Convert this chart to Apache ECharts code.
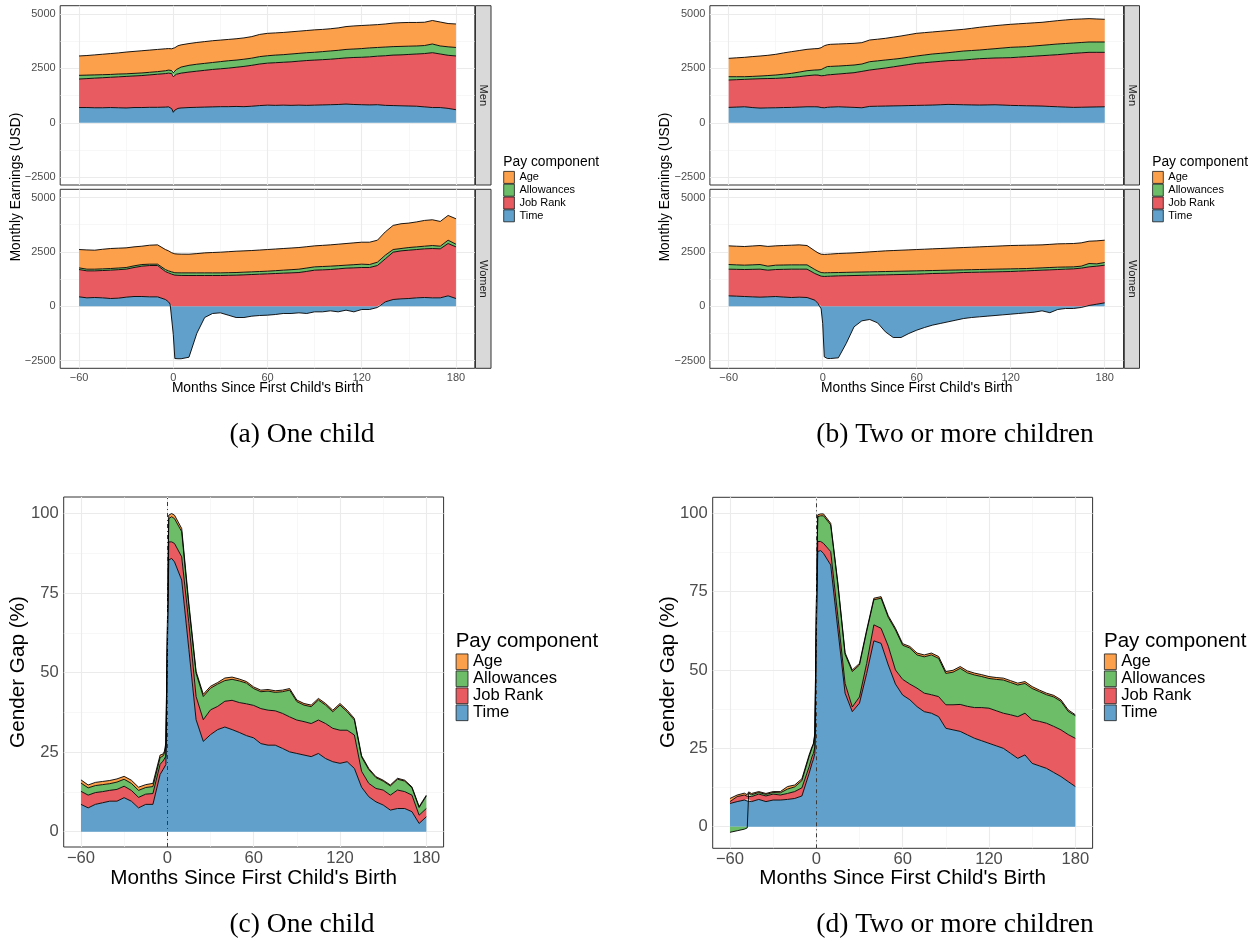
<!DOCTYPE html>
<html>
<head>
<meta charset="utf-8">
<script src="https://cdn.jsdelivr.net/npm/echarts@6.0.0/dist/echarts.min.js"></script>
<style>
html,body{margin:0;padding:0;background:#ffffff;}
#chart{width:1258px;height:942px;}
</style>
</head>
<body>
<div id="chart"></div>
<script>
// ---------------- DATA ----------------
const COMPONENTS = ['Age', 'Allowances', 'Job Rank', 'Time'];
const X_TICKS = [-60, 0, 60, 120, 180];
const X_MINOR = [-30, 30, 90, 150];
const Y_TICKS_EARN = [-2500, 0, 2500, 5000];
const Y_MINOR_EARN = [-1250, 1250, 3750];
const Y_TICKS_GAP = [0, 25, 50, 75, 100];
const Y_MINOR_GAP = [12.5, 37.5, 62.5, 87.5];

const MONTHS = [-60,-55,-50,-45,-40,-35,-30,-25,-20,-15,-10,-5,-3,-2,-1,0,1,2,3,5,10,15,20,25,30,35,40,45,50,55,60,65,70,75,80,85,90,95,100,105,110,115,120,125,130,135,140,145,150,155,160,165,170,175,180];
const MONTHS_D = [-60,-55,-50,-48,-47,-45,-40,-35,-30,-25,-20,-15,-10,-5,-3,-2,-1,0,1,2,3,5,10,15,20,25,30,35,40,45,50,55,60,65,70,75,80,85,90,95,100,105,110,115,120,125,130,135,140,145,150,155,160,165,170,175,180];

// (a) One child - Men (USD)
const A_MEN_TIME = [700,700,690,690,700,690,680,700,700,710,710,720,730,720,650,480,580,640,660,680,700,710,720,730,740,740,750,740,760,790,810,800,810,800,810,800,810,820,830,840,860,840,830,820,830,800,790,780,770,760,730,700,700,660,600];
const A_MEN_JOBRANK = [1310,1330,1360,1380,1390,1420,1450,1450,1470,1490,1520,1540,1550,1570,1610,1640,1600,1590,1590,1600,1630,1660,1690,1720,1740,1770,1800,1850,1880,1910,1930,1960,1970,2000,2020,2060,2070,2080,2090,2110,2120,2160,2180,2210,2230,2280,2320,2340,2370,2400,2450,2520,2460,2440,2470];
const A_MEN_ALLOW = [170,160,150,140,130,130,120,120,120,120,120,130,140,150,140,180,200,220,250,280,310,320,320,320,330,340,330,330,330,340,340,350,350,360,360,360,360,370,380,380,390,390,400,410,400,400,390,390,380,370,370,400,370,390,390];
const A_MEN_AGE = [890,900,920,940,960,970,1000,1010,1020,1020,1020,1010,990,980,1000,1080,1070,1050,1040,1020,1000,1000,1000,1000,990,980,980,980,990,1020,1030,1020,1020,1020,1020,1020,1030,1020,1020,1030,1050,1060,1060,1050,1050,1060,1080,1090,1090,1080,1070,1080,1100,1070,1080];

// (a) One child - Women (USD)
const A_WOMEN_TIME = [430,384,399,384,353,368,414,445,445,430,430,307,199,92,0,-1300,-2410,-2420,-2420,-2420,-2350,-1250,-522,-337,-307,-414,-522,-522,-460,-430,-414,-384,-337,-337,-307,-337,-261,-261,-215,-261,-184,-261,-153,-153,-61,199,307,337,353,384,399,384,384,476,353];
const A_WOMEN_JOBRANK = [1257,1242,1227,1256,1304,1312,1289,1334,1396,1441,1441,1288,1335,1408,1473,1442,1430,1425,1420,1415,1411,1411,1411,1411,1411,1420,1427,1442,1457,1473,1488,1503,1519,1534,1549,1600,1657,1672,1687,1718,1749,1764,1779,1779,1871,1979,2178,2209,2224,2224,2240,2270,2255,2408,2377];
const A_WOMEN_ALLOW = [77,77,77,78,76,76,76,77,76,62,62,92,92,100,107,107,110,112,115,119,123,123,123,123,123,122,122,123,123,123,123,131,138,146,154,156,153,154,154,146,138,146,154,138,154,169,123,108,123,122,122,138,122,153,123];
const A_WOMEN_AGE = [844,887,874,902,921,914,906,874,844,874,889,921,920,900,880,875,870,868,865,861,859,886,920,936,951,966,982,981,982,989,997,997,997,997,997,982,966,973,981,989,997,1005,1012,1028,1012,1073,1110,1140,1125,1150,1186,1186,1140,1140,1171];

// (b) Two or more children - Men (USD)
const B_MEN_TIME = [706,720,736,700,675,685,690,700,706,720,736,736,730,720,700,660,690,706,710,720,736,720,706,690,752,760,767,775,782,790,798,805,813,828,844,836,828,820,813,820,828,813,798,790,782,775,767,750,736,720,706,713,721,728,736];
const B_MEN_JOBRANK = [1258,1260,1258,1310,1350,1347,1350,1360,1380,1400,1427,1458,1460,1460,1460,1488,1480,1488,1490,1490,1504,1550,1595,1670,1672,1710,1749,1795,1841,1887,1933,1955,1979,1994,2009,2032,2056,2095,2132,2140,2148,2171,2193,2224,2255,2285,2316,2356,2393,2440,2485,2501,2516,2509,2501];
const B_MEN_ALLOW = [153,137,123,120,123,138,154,170,184,210,230,230,240,260,285,306,350,383,385,380,368,360,353,340,383,375,368,350,338,338,337,355,368,368,368,392,414,405,399,415,429,452,476,468,461,470,476,484,491,483,475,475,475,475,475];
const B_MEN_AGE = [844,868,890,910,920,930,951,980,997,990,982,981,980,980,1005,1044,1020,997,1000,1015,1012,1005,997,982,997,995,997,1015,1027,1035,1043,1027,1013,1014,1013,1005,997,1020,1043,1050,1059,1059,1058,1066,1073,1064,1058,1065,1074,1082,1089,1081,1074,1058,1043];

// (b) Two or more children - Women (USD)
const B_WOMEN_TIME = [476,460,445,430,414,430,445,420,399,414,399,276,123,31,-123,-800,-2332,-2393,-2410,-2410,-2378,-1718,-951,-675,-614,-767,-1181,-1442,-1442,-1258,-1105,-982,-874,-798,-721,-644,-568,-522,-491,-460,-430,-399,-368,-337,-307,-276,-215,-300,-153,-107,-107,-61,31,92,153];
const B_WOMEN_JOBRANK = [1227,1235,1242,1265,1289,1227,1242,1275,1304,1289,1304,1227,1319,1380,1381,1365,1368,1372,1375,1380,1396,1403,1411,1419,1427,1435,1442,1450,1457,1465,1473,1488,1503,1511,1519,1534,1549,1557,1565,1572,1580,1588,1595,1611,1626,1641,1657,1672,1687,1703,1718,1749,1779,1749,1734];
const B_WOMEN_ALLOW = [214,207,200,207,214,184,200,200,199,199,199,184,169,169,168,169,168,166,165,163,153,154,154,153,153,153,153,153,154,153,153,146,138,138,138,131,123,123,122,123,123,122,123,115,107,107,107,108,108,100,92,92,154,107,123];
const B_WOMEN_AGE = [860,858,859,868,875,910,890,897,905,920,890,859,843,844,844,844,846,848,850,857,875,882,889,905,920,935,951,958,966,974,982,989,998,1005,1012,1020,1028,1035,1043,1051,1058,1067,1074,1074,1074,1067,1058,1065,1074,1074,1074,1074,1027,1059,1027];

// (c) One child - Gender gap (%)
const C_TIME = [8.6,7.5,8.6,9.1,9.6,9.6,10.7,9.6,7.5,8.6,8.6,18.0,19.5,20.0,21.1,55,85.4,85.9,85.9,84.8,79.1,57.2,35.2,28.4,30.5,32.1,32.9,32.1,31.2,30.2,29.5,27.7,27.2,27.2,26.2,25.1,24.6,24.1,23.6,24.6,23.0,22.0,21.5,22.0,19.9,14.0,11.0,9.4,8.4,6.8,7.3,7.3,6.3,2.6,4.7];
const C_JOBRANK = [4.1,4.0,3.7,3.5,3.4,3.7,3.6,3.4,3.3,3.2,3.4,3.2,2.7,2.8,2.6,4.0,5.7,5.5,5.2,5.8,7.3,8.3,7.3,6.8,7.8,7.3,8.1,9.2,9.4,10.0,10.2,11.0,11.0,10.8,11.0,11.0,10.5,10.5,10.4,10.5,11.0,10.5,10.4,9.9,10.5,5.0,4.2,4.2,4.7,4.7,5.8,5.3,5.2,2.6,2.6];
const C_ALLOW = [2.6,2.3,2.2,2.2,2.1,2.3,2.2,2.2,2.2,2.1,2.2,2.1,1.6,1.8,3.2,3.0,7.3,7.3,7.9,7.8,7.9,5.2,7.3,7.3,6.8,7.0,6.5,6.6,6.8,6.5,5.3,5.3,6.0,5.8,6.8,8.4,5.8,5.2,5.3,6.3,5.8,5.2,7.9,5.8,4.7,4.5,4.3,3.4,2.8,2.9,3.4,3.3,2.3,2.4,3.9];
const C_AGE = [1.0,0.9,1.0,1.0,1.0,1.0,0.9,1.0,1.0,0.9,1.0,0.8,0.6,0.7,1.0,0.8,1.1,1.1,1.0,1.1,1.0,1.0,0.6,0.7,0.6,0.5,0.8,0.7,0.6,0.5,0.5,0.5,0.5,0.5,0.5,0.5,0.5,0.5,0.5,0.5,0.5,0.5,0.5,0.5,0.5,0.4,0.4,0.3,0.3,0.3,0.3,0.3,0.3,0.3,0.3];

// (d) Two or more children - Gender gap (%)
const D_TIME = [7.4,8.0,8.5,8.2,8.8,8.0,8.7,8.0,8.5,8.5,8.7,9.0,9.8,17.0,20.2,21.5,23.4,60,87.8,88.3,88.1,87.2,83.5,62.8,42.6,36.7,39.4,48.9,59.3,58.5,51.6,45.5,42.0,40.5,38.3,36.7,36.2,35.1,31.4,30.9,30.4,29.3,28.2,27.4,26.6,25.8,25.0,23.4,21.8,22.9,20.2,19.4,18.6,17.3,16.0,14.4,12.8];
const D_JOBRANK = [0.6,1.6,1.6,1.5,1.5,1.6,1.7,1.8,1.9,1.6,1.9,2.2,2.6,2.1,2.1,1.9,2.1,5,3.2,3.0,2.9,3.2,4.3,4.2,3.1,1.5,2.0,3.2,5.1,4.8,6.0,4.5,5.0,5.0,5.9,5.9,5.9,6.4,7.5,8.0,8.6,9.1,9.8,10.6,11.2,11.2,11.2,12.3,13.3,13.3,13.9,14.2,14.4,14.7,14.9,15.0,15.4];
const D_ALLOW = [-1.8,-1.3,-0.8,-0.4,0.4,0.6,0.5,0.5,0.5,0.7,1.4,1.5,2.3,3.3,2.8,2.8,3.9,4.5,7.9,7.9,8.2,8.8,8.5,10.2,9.3,11.3,10.2,10.2,8.0,9.6,9.2,12.8,10.9,11.5,10.6,11.6,12.7,12.2,10.0,10.4,11.5,10.7,10.4,9.9,9.5,10.0,10.6,10.3,10.1,9.5,10.0,9.5,9.1,9.4,9.1,7.4,7.2];
const D_AGE = [1.0,0.5,0.6,0.5,0.4,0.4,0.3,0.3,0.3,0.4,0.8,0.6,0.6,0.5,0.4,0.4,0.4,0.5,0.6,0.6,0.6,0.6,0.5,0.5,0.5,0.5,0.5,0.5,0.5,0.5,0.5,0.5,0.5,0.5,0.6,0.6,0.6,0.6,0.6,0.6,0.6,0.6,0.6,0.6,0.6,0.6,0.6,0.6,0.6,0.6,0.6,0.5,0.5,0.5,0.5,0.5,0.3];

// ---------------- STYLE / LAYOUT ----------------
const FONT = '"Liberation Sans", Arial, Helvetica, sans-serif';
const SERIF = '"Liberation Serif", "Times New Roman", serif';
const FILL = {'Age': '#FDA04B', 'Allowances': '#6CBC68', 'Job Rank': '#E85C61', 'Time': '#60A0CB'};
const STACK_ORDER = ['Time', 'Job Rank', 'Allowances', 'Age'];

const PANELS = [
  {months: MONTHS, vals: {'Time': A_MEN_TIME, 'Job Rank': A_MEN_JOBRANK, 'Allowances': A_MEN_ALLOW, 'Age': A_MEN_AGE},
   grid: {left: 60.2, top: 5.7, width: 414.6, height: 179.3}, y: [-2860, 5380], kind: 'earn', xLab: false, big: false},
  {months: MONTHS, vals: {'Time': A_WOMEN_TIME, 'Job Rank': A_WOMEN_JOBRANK, 'Allowances': A_WOMEN_ALLOW, 'Age': A_WOMEN_AGE},
   grid: {left: 60.2, top: 189.3, width: 414.6, height: 179}, y: [-2860, 5380], kind: 'earn', xLab: true, big: false},
  {months: MONTHS, vals: {'Time': B_MEN_TIME, 'Job Rank': B_MEN_JOBRANK, 'Allowances': B_MEN_ALLOW, 'Age': B_MEN_AGE},
   grid: {left: 709.9, top: 5.7, width: 413.6, height: 179.3}, y: [-2860, 5380], kind: 'earn', xLab: false, big: false},
  {months: MONTHS, vals: {'Time': B_WOMEN_TIME, 'Job Rank': B_WOMEN_JOBRANK, 'Allowances': B_WOMEN_ALLOW, 'Age': B_WOMEN_AGE},
   grid: {left: 709.9, top: 189.3, width: 413.6, height: 179}, y: [-2860, 5380], kind: 'earn', xLab: true, big: false},
  {months: MONTHS, vals: {'Time': C_TIME, 'Job Rank': C_JOBRANK, 'Allowances': C_ALLOW, 'Age': C_AGE},
   grid: {left: 63.7, top: 497, width: 379.9, height: 350}, y: [-4.8, 105.2], kind: 'gap', xLab: true, big: true, vline: true},
  {months: MONTHS_D, vals: {'Time': D_TIME, 'Job Rank': D_JOBRANK, 'Allowances': D_ALLOW, 'Age': D_AGE},
   grid: {left: 712.7, top: 497.3, width: 379.9, height: 351}, y: [-6.9, 105.1], kind: 'gap', xLab: true, big: true, vline: true}
];

const fmt = v => String(v).replace('-', '\u2212');

const option = {
  animation: false,
  backgroundColor: '#ffffff',
  textStyle: {fontFamily: FONT},
  grid: [], xAxis: [], yAxis: [], series: [], legend: [],
  graphic: {elements: []}
};

PANELS.forEach((p, i) => {
  const fs = p.big ? 16.6 : 11;
  option.grid.push(Object.assign({}, p.grid, {show: true, borderColor: '#333333', borderWidth: 1, backgroundColor: '#ffffff', containLabel: false}));
  option.xAxis.push({
    type: 'value', gridIndex: i, min: -72, max: 192,
    axisLine: {show: false}, splitLine: {show: false}, minorSplitLine: {show: false},
    axisTick: {show: p.xLab, customValues: X_TICKS, length: p.big ? 3.5 : 2.7, lineStyle: {color: '#333333', width: 1}},
    axisLabel: {show: p.xLab, customValues: X_TICKS, formatter: fmt, color: '#4D4D4D', fontSize: fs, margin: p.big ? 3 : 4, fontFamily: FONT}
  });
  const yTicks = p.kind === 'earn' ? Y_TICKS_EARN : Y_TICKS_GAP;
  const yMinor = p.kind === 'earn' ? Y_MINOR_EARN : Y_MINOR_GAP;
  option.yAxis.push({
    type: 'value', gridIndex: i, min: p.y[0], max: p.y[1],
    axisLine: {show: false}, splitLine: {show: false}, minorSplitLine: {show: false},
    axisTick: {show: true, customValues: yTicks, length: p.big ? 3.5 : 2.7, lineStyle: {color: '#333333', width: 1}},
    axisLabel: {customValues: yTicks, formatter: fmt, color: '#4D4D4D', fontSize: fs, margin: p.big ? 5 : 4.5, fontFamily: FONT}
  });
  // background grid lines (major + minor), drawn beneath the areas
  const MINOR = {color: '#F2F2F2', width: 0.6, type: 'solid'};
  const MAJOR = {color: '#EBEBEB', width: 1.1, type: 'solid'};
  const gl = [];
  X_MINOR.forEach(v => gl.push({xAxis: v, lineStyle: MINOR}));
  yMinor.forEach(v => gl.push({yAxis: v, lineStyle: MINOR}));
  X_TICKS.forEach(v => gl.push({xAxis: v, lineStyle: MAJOR}));
  yTicks.forEach(v => gl.push({yAxis: v, lineStyle: MAJOR}));
  option.series.push({
    type: 'line', xAxisIndex: i, yAxisIndex: i, data: [], silent: true, symbol: 'none', z: 1,
    lineStyle: {width: 0},
    markLine: {silent: true, z: 1, symbol: ['none', 'none'], label: {show: false}, emphasis: {disabled: true},
      animation: false, lineStyle: {type: 'solid'}, data: gl}
  });
  // stacked areas (Time at the bottom, Age on top).
  // Value is put in dimension 0 so that ECharts stacks the values (not the months).
  STACK_ORDER.forEach(name => {
    option.series.push({
      name: name, type: 'line', xAxisIndex: i, yAxisIndex: i,
      stack: 'panel' + i, stackStrategy: 'samesign',
      dimensions: ['value', 'month'],
      encode: {x: 'month', y: 'value'},
      data: p.months.map((m, k) => [p.vals[name][k], m]),
      symbol: 'none', showSymbol: false, smooth: false, silent: true, z: 2,
      lineStyle: {color: '#000000', width: 0.9},
      itemStyle: {color: FILL[name]},
      areaStyle: {color: FILL[name], opacity: 1},
      emphasis: {disabled: true}
    });
  });
  if (p.vline) {
    option.series.push({
      type: 'line', xAxisIndex: i, yAxisIndex: i, data: [], silent: true, symbol: 'none', z: 5,
      lineStyle: {width: 0},
      markLine: {silent: true, z: 6, symbol: ['none', 'none'], label: {show: false}, emphasis: {disabled: true},
        animation: false, data: [{xAxis: 0, lineStyle: {color: '#3A3A3A', width: 1, type: [4, 3, 1, 3]}}]}
    });
  }
});

// legends
function legendCfg(left, top, w, h, fs) {
  return {
    orient: 'vertical', left: left, top: top, padding: 0, itemGap: 0,
    itemWidth: w, itemHeight: h, icon: 'rect', selectedMode: false,
    textStyle: {fontSize: fs, color: '#000000', lineHeight: h, fontFamily: FONT},
    data: COMPONENTS.map(n => ({name: n, icon: 'rect', itemStyle: {color: FILL[n], borderColor: '#1A1A1A', borderWidth: 0.8}}))
  };
}
option.legend.push(legendCfg(503.3, 171, 10.7, 12, 11));
option.legend.push(legendCfg(1152.2, 171, 10.7, 12, 11));
option.legend.push(legendCfg(455.7, 653.3, 11.9, 15.7, 16.6));
option.legend.push(legendCfg(1104, 653.3, 11.9, 15.7, 16.6));

// texts, strips
function txt(text, x, y, size, o) {
  o = o || {};
  const align = o.align || 'center';
  return {type: 'text', x: x, y: y, rotation: o.rot || 0, silent: true, z: 50,
    style: {text: text, font: size + 'px ' + (o.serif ? SERIF : FONT), fill: o.fill || '#000000',
      align: align, textAlign: align, verticalAlign: 'middle', textVerticalAlign: 'middle'}};
}
function strip(x, y, w, h) {
  return {type: 'rect', silent: true, z: 40, shape: {x: x, y: y, width: w, height: h},
    style: {fill: '#D9D9D9', stroke: '#333333', lineWidth: 1}};
}
const G = option.graphic.elements;
const HALF = Math.PI / 2;
// strips (a)
G.push(strip(475.5, 5.7, 15.5, 179.3), strip(475.5, 189.3, 15.5, 179));
G.push(txt('Men', 483.3, 95.3, 11, {rot: -HALF, fill: '#1A1A1A'}), txt('Women', 483.3, 278.8, 11, {rot: -HALF, fill: '#1A1A1A'}));
// strips (b)
G.push(strip(1124.3, 5.7, 15.2, 179.3), strip(1124.3, 189.3, 15.2, 179));
G.push(txt('Men', 1131.9, 95.3, 11, {rot: -HALF, fill: '#1A1A1A'}), txt('Women', 1131.9, 278.8, 11, {rot: -HALF, fill: '#1A1A1A'}));
// axis titles
G.push(txt('Monthly Earnings (USD)', 15.8, 187, 13.8, {rot: HALF}));
G.push(txt('Monthly Earnings (USD)', 665.2, 187, 13.8, {rot: HALF}));
G.push(txt("Months Since First Child's Birth", 267.5, 388.3, 13.8));
G.push(txt("Months Since First Child's Birth", 916.7, 388.3, 13.8));
G.push(txt('Gender Gap (%)', 17.8, 672, 20.7, {rot: HALF}));
G.push(txt('Gender Gap (%)', 668, 672, 20.7, {rot: HALF}));
G.push(txt("Months Since First Child's Birth", 253.7, 878.3, 20.7));
G.push(txt("Months Since First Child's Birth", 902.6, 878.3, 20.7));
// legend titles
G.push(txt('Pay component', 503.3, 161.7, 13.8, {align: 'left'}));
G.push(txt('Pay component', 1152.2, 161.7, 13.8, {align: 'left'}));
G.push(txt('Pay component', 455.7, 641.7, 20.5, {align: 'left'}));
G.push(txt('Pay component', 1104, 641.7, 20.5, {align: 'left'}));
// captions
G.push(txt('(a) One child', 302, 435, 27.5, {serif: true}));
G.push(txt('(b) Two or more children', 955, 435, 27.5, {serif: true}));
G.push(txt('(c) One child', 302, 925, 27.5, {serif: true}));
G.push(txt('(d) Two or more children', 955, 925, 27.5, {serif: true}));

const chart = echarts.init(document.getElementById('chart'), null, {renderer: 'canvas', width: 1258, height: 942});
chart.setOption(option);
</script>
</body>
</html>
